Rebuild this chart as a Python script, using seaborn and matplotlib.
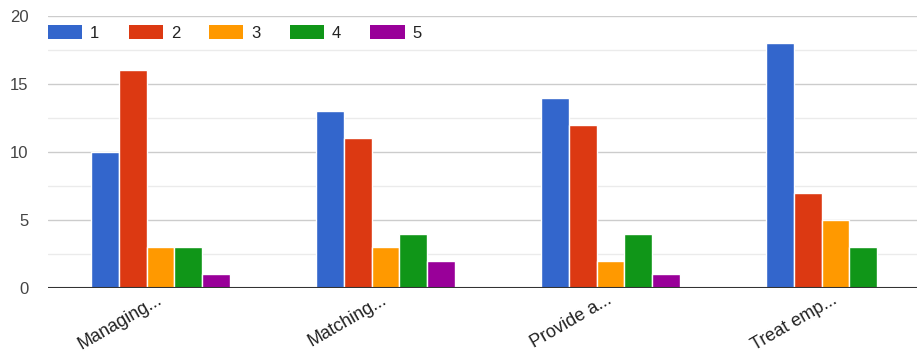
import matplotlib
matplotlib.use("Agg")
import matplotlib.pyplot as plt
import matplotlib.patches as mpatches
import numpy as np
import pandas as pd
import seaborn as sns

# Survey responses per statement, counted by rating 1-5
categories = ["Managing...", "Matching...", "Provide a...", "Treat emp..."]
ratings = ["1", "2", "3", "4", "5"]
counts_1 = [10, 13, 14, 18]
counts_2 = [16, 11, 12, 7]
counts_3 = [3, 3, 2, 5]
counts_4 = [3, 4, 4, 3]
counts_5 = [1, 2, 1, 0]
y_ticks = [0, 5, 10, 15, 20]

palette = ["#3366cc", "#dc3912", "#ff9900", "#109618", "#990099"]

series = [counts_1, counts_2, counts_3, counts_4, counts_5]
rows = []
for rating, vals in zip(ratings, series):
    for cat, v in zip(categories, vals):
        rows.append({"statement": cat, "rating": rating, "count": v})
df = pd.DataFrame(rows)

sns.set_theme(style="white")
plt.rcParams["font.family"] = ["Liberation Sans", "DejaVu Sans"]

W, H = 917, 355
fig = plt.figure(figsize=(W / 100, H / 100), dpi=100)
ax = fig.add_axes([48 / W, (H - 288) / H, (W - 48) / W, 272 / H])

sns.barplot(
    data=df, x="statement", y="count", hue="rating",
    order=categories, hue_order=ratings, palette=palette,
    width=0.62, saturation=1, edgecolor="white", linewidth=1,
    legend=False, ax=ax, zorder=3,
)

ax.set_xlim(-0.5, 3.5 - 31 / 225)
ax.set_ylim(0, 20)
ax.set_yticks(y_ticks)
ax.set_yticks([2.5, 7.5, 12.5, 17.5], minor=True)
ax.grid(axis="y", which="major", color="#cccccc", linewidth=1, zorder=0)
ax.grid(axis="y", which="minor", color="#ebebeb", linewidth=1, zorder=0)
ax.axhline(0, color="#333333", linewidth=1.5, zorder=5)
for s in ax.spines.values():
    s.set_visible(False)

ax.set_xlabel("")
ax.set_ylabel("")
ax.tick_params(axis="y", which="both", length=0, pad=14, labelsize=12, labelcolor="#444444")
ax.tick_params(axis="x", length=0, pad=8, labelsize=13, labelcolor="#222222")
for lbl in ax.get_xticklabels():
    lbl.set_rotation(30)
    lbl.set_ha("right")
    lbl.set_va("center")
    lbl.set_rotation_mode("anchor")

handles = [mpatches.Patch(facecolor=c, edgecolor="none") for c in palette]
fig.legend(
    handles, ratings, loc="center left", ncol=5,
    bbox_to_anchor=(48 / W, 1 - 33 / H), bbox_transform=fig.transFigure,
    frameon=False, fontsize=12, handlelength=2.05, handleheight=0.9,
    handletextpad=0.48, columnspacing=1.75, borderpad=0, borderaxespad=0,
    labelcolor="#222222",
)

fig.savefig("out.png", dpi=100)
